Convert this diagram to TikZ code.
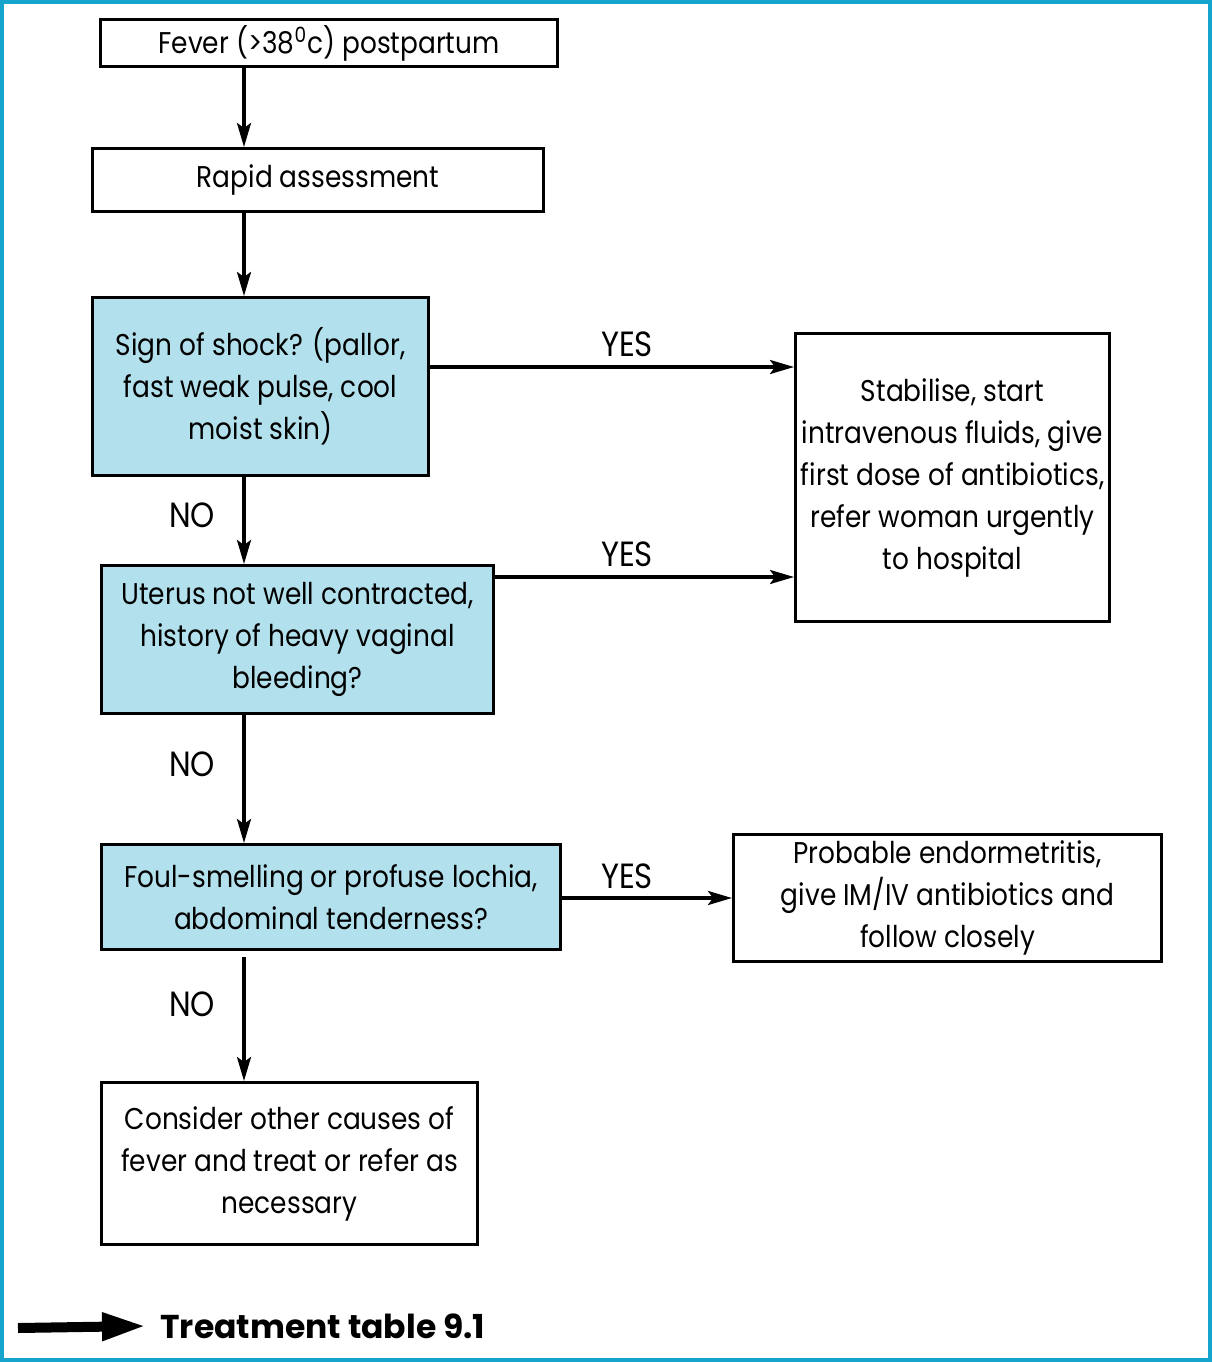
\documentclass[tikz,border=0pt]{standalone}
\usepackage{fontspec}
\setmainfont{Poppins}[FakeStretch=0.88]
\newfontfamily\tfont{Poppins}
\usetikzlibrary{arrows.meta}
\definecolor{framecol}{RGB}{22,163,204}
\definecolor{qfill}{RGB}{178,224,236}
\begin{document}
\begin{tikzpicture}[x=0.5pt,y=-0.5pt,
  box/.style={draw, line width=1.6pt, inner sep=0pt, align=center, anchor=north west,
    font=\fontsize{15}{21}\selectfont},
  qbox/.style={box, fill=qfill},
  arr/.style={line width=1.6pt, -{Stealth[length=12pt,width=7pt,inset=2.5pt]}},
  lab/.style={font=\fontsize{17.5}{21}\selectfont, inner sep=0pt}]
\useasboundingbox (0,0) rectangle (1212,1362);
\draw[framecol, line width=1.6pt] (2,2) rectangle (1210,1360);

\node[box, minimum width=228.5pt, minimum height=23.5pt] (b1) at (99,18) {Fever (>38\textsuperscript{0}c) postpartum};
\node[box, minimum width=225.5pt, minimum height=31.5pt] (b2) at (91,147) {Rapid assessment};
\node[qbox, minimum width=168pt, minimum height=89pt] (b3) at (91,296) {Sign of shock? (pallor,\\fast weak pulse, cool\\moist skin)};
\node[qbox, minimum width=196pt, minimum height=74pt] (b4) at (100,564) {Uterus not well contracted,\\history of heavy vaginal\\bleeding?};
\node[qbox, minimum width=229.5pt, minimum height=52.5pt] (b5) at (100,843) {Foul-smelling or profuse lochia,\\abdominal tenderness?};
\node[box, minimum width=188pt, minimum height=81pt] (b6) at (100,1081) {Consider other causes of\\fever and treat or refer as\\necessary};
\node[box, minimum width=157pt, minimum height=144pt] (b7) at (794,332) {Stabilise, start\\intravenous fluids, give\\first dose of antibiotics,\\refer woman urgently\\to hospital};
\node[box, minimum width=214pt, minimum height=63.5pt] (b8) at (732,833) {Probable endormetritis,\\give IM/IV antibiotics and\\follow closely};

\coordinate (vx) at (244,0);
\coordinate (h1) at (0,367);
\coordinate (h2) at (0,577);
\coordinate (h3) at (0,898);

\draw[arr] (b1.south -| vx) -- (b2.north -| vx);
\draw[arr] (b2.south -| vx) -- (b3.north -| vx);
\draw[arr] (b3.south -| vx) -- (b4.north -| vx);
\draw[arr] (b4.south -| vx) -- (b5.north -| vx);
\draw[arr] ([yshift=-3pt]b5.south -| vx) -- (b6.north -| vx);
\draw[arr] (b3.east |- h1) -- (b7.west |- h1);
\draw[arr] (b4.east |- h2) -- (b7.west |- h2);
\draw[arr] (b5.east |- h3) -- (b8.west |- h3);

\node[lab] (y1) at (627,344) {YES};
\node[lab] (y2) at (627,554) {YES};
\node[lab] (y3) at (627,876) {YES};
\node[lab] (n1) at (192,515) {NO};
\node[lab] (n2) at (192,764) {NO};
\node[lab] (n3) at (192,1004) {NO};

\coordinate (ta) at (18,1328);
\node[anchor=west, inner sep=0pt, font=\tfont\fontsize{16.5}{18}\bfseries\selectfont] (tt) at (160,1326) {Treatment table 9.1};
\draw[line width=5pt, -{Triangle[length=22pt,width=13pt]}] (ta) -- ([xshift=-7pt]tt.west);
\end{tikzpicture}
\end{document}
